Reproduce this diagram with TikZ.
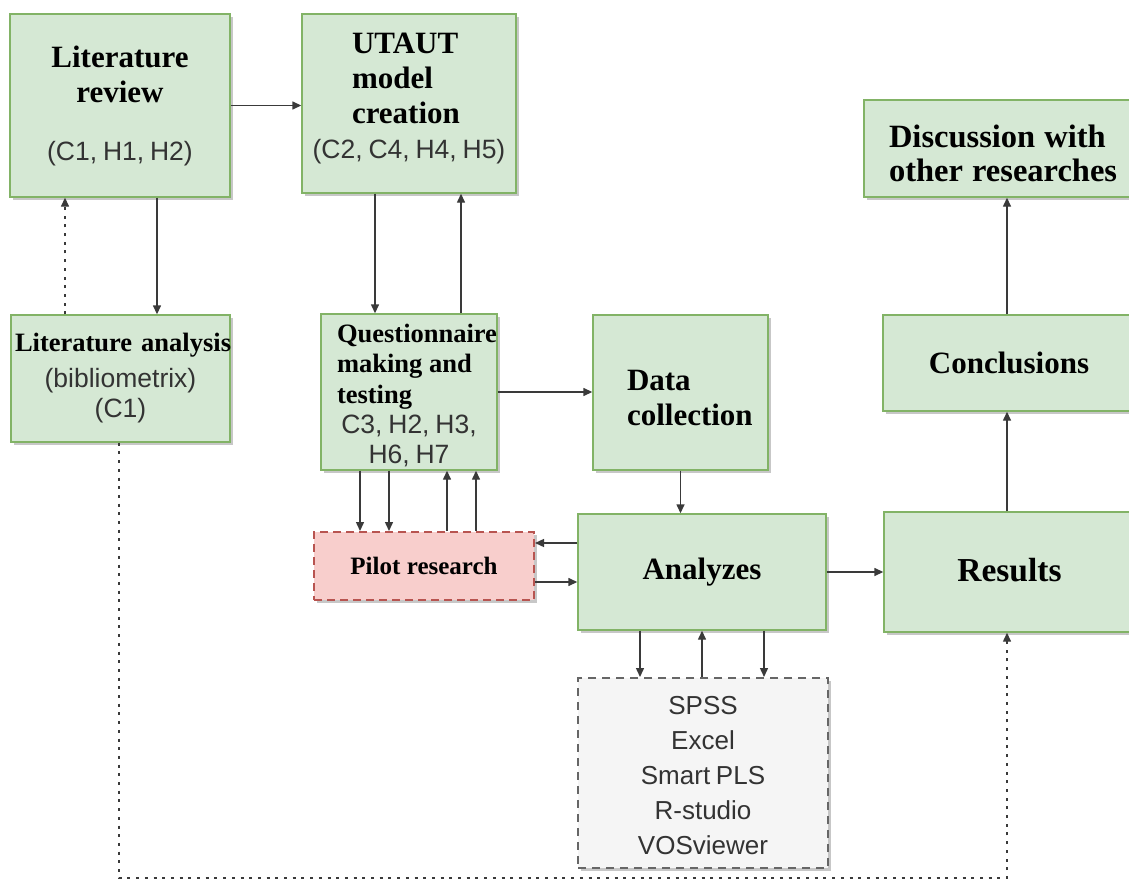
\documentclass[tikz,border=0pt]{standalone}
\usepackage{fontspec}
\setmainfont{Liberation Serif}
\newfontfamily\labelsans{Liberation Sans}
\usetikzlibrary{arrows.meta,shadows}

\definecolor{boxgreen}{HTML}{D5E8D4}
\definecolor{edgegreen}{HTML}{82B366}
\definecolor{boxpink}{HTML}{F8CECC}
\definecolor{edgered}{HTML}{B85450}
\definecolor{boxgray}{HTML}{F5F5F5}
\definecolor{edgegray}{HTML}{666666}
\definecolor{textgray}{HTML}{333333}
\definecolor{linegray}{HTML}{3A3A3A}

% text styles used inside the boxes
\newcommand\boxtitle{\bfseries\fontsize{31}{35}\selectfont\color{black}%
  \spaceskip=0.28em\relax}
\newcommand\boxbig{\bfseries\fontsize{33.5}{35}\selectfont\color{black}%
  \spaceskip=0.28em\relax}
\newcommand\boxsub{\bfseries\fontsize{26.5}{30.5}\selectfont\color{black}%
  \spaceskip=0.25em\relax}
\newcommand\boxnote{\labelsans\mdseries\fontsize{26.5}{30}\selectfont\color{textgray}%
  \spaceskip=0.22em\relax}
\newcommand\toolfont{\labelsans\mdseries\fontsize{26}{35}\selectfont\color{textgray}%
  \spaceskip=0.22em\relax}

\tikzset{
  boxshadow/.style={drop shadow={shadow xshift=3pt,shadow yshift=-3pt,fill=black,opacity=0.22}},
  stage/.style={draw=edgegreen,fill=boxgreen,line width=1.4pt,boxshadow,
    inner sep=0pt,align=center},
  pilotbox/.style={draw=edgered,fill=boxpink,line width=2pt,boxshadow,
    dash pattern=on 8pt off 5pt,inner sep=0pt,align=center},
  toolbox/.style={draw=edgegray,fill=boxgray,line width=2pt,boxshadow,
    dash pattern=on 8pt off 6pt,inner sep=0pt,align=center},
  link/.style={draw=linegray,line width=1.4pt,
    -{Triangle[length=9pt,width=8pt]}},
  dotlink/.style={link,dash pattern=on 3pt off 5.7pt},
}

\begin{document}
\begin{tikzpicture}[x=1pt,y=-1pt]
\useasboundingbox (0,0) rectangle (1129,880);
\clip (0,0) rectangle (1129,880);

% ---- left column ----
\node[stage,minimum width=220pt,minimum height=183pt,text width=212pt]
  (litrev) at (120,105.5)
  {\boxtitle Literature\\review\par\vspace{28pt}\boxnote (C1, H1, H2)\par};

\node[stage,minimum width=214pt,minimum height=179pt,text width=214pt]
  (utaut) at (409,103.5)
  {\raggedright\leftskip=50pt\boxtitle UTAUT\\model\\creation\par
   \vspace{5pt}\centering\boxnote (C2, C4, H4, H5)\par\vspace*{9pt}};

\node[stage,minimum width=219pt,minimum height=127pt,text width=211pt]
  (litan) at (120.5,378.5)
  {\boxsub\spaceskip=0.34em\relax\mbox{Literature analysis}\par
   \vspace{6pt}\boxnote (bibliometrix)\\(C1)\par};

\node[stage,minimum width=176pt,minimum height=156pt,text width=176pt]
  (quest) at (409,392)
  {\raggedright\leftskip=16pt\boxsub Questionnaire\\making and\\testing\par
   \centering\boxnote C3, H2, H3,\\H6, H7\par\vspace*{-6pt}};

% ---- middle column ----
\node[stage,minimum width=175pt,minimum height=155pt,text width=175pt]
  (data) at (680.5,392.5)
  {\raggedright\leftskip=34pt\boxtitle Data\\collection\par\vspace*{-10pt}};

\node[stage,minimum width=248pt,minimum height=116pt,text width=248pt]
  (analyzes) at (702,572) {\boxtitle Analyzes};

\node[pilotbox,minimum width=220pt,minimum height=68pt,text width=220pt]
  (pilot) at (424,566)
  {\bfseries\fontsize{25}{29}\selectfont\spaceskip=0.26em\relax Pilot research};

\node[toolbox,minimum width=250pt,minimum height=190pt,text width=250pt]
  (tools) at (703,773)
  {\toolfont SPSS\\Excel\\Smart PLS\\R-studio\\VOSviewer\par\vspace*{-6pt}};

% ---- right column ----
\node[stage,minimum width=251pt,minimum height=120pt,text width=251pt]
  (results) at (1009.5,572) {\boxbig Results\par\vspace*{4pt}};

\node[stage,minimum width=252pt,minimum height=96pt,text width=252pt]
  (concl) at (1009,363) {\boxtitle Conclusions};

\node[stage,minimum width=271pt,minimum height=97pt,text width=271pt]
  (disc) at (999.5,148.5)
  {\raggedright\leftskip=25pt\boxtitle\fontsize{32.5}{34}\selectfont
   \spaceskip=0.28em\relax
   Discussion with\\other researches\par\vspace*{-10pt}};

% ---- helper points ----
\coordinate (rcol) at (1007,0);
\coordinate (bl) at (119,878);
\coordinate (br) at (1007,878);

% ---- connectors ----
\draw[link] (litrev.east) -- (litrev.east -| utaut.west);
\draw[link] ([xshift=37pt]litrev.south) -- ([xshift=37pt]litrev.south |- litan.north);
\draw[dotlink] ([xshift=-55pt]litrev.south |- litan.north) -- ([xshift=-55pt]litrev.south);

\draw[link] ([xshift=-34pt]utaut.south) -- ([xshift=-34pt]utaut.south |- quest.north);
\draw[link] ([xshift=52pt]utaut.south |- quest.north) -- ([xshift=52pt]utaut.south);

\draw[link] (quest.east) -- (quest.east -| data.west);

\draw[link] ([xshift=-49pt]quest.south) -- ([xshift=-49pt]quest.south |- pilot.north);
\draw[link] ([xshift=-20pt]quest.south) -- ([xshift=-20pt]quest.south |- pilot.north);
\draw[link] ([xshift=38pt]quest.south |- pilot.north) -- ([xshift=38pt]quest.south);
\draw[link] ([xshift=67pt]quest.south |- pilot.north) -- ([xshift=67pt]quest.south);

\draw[link] ([yshift=29pt]analyzes.west) -- ([yshift=29pt]analyzes.west -| pilot.east);
\draw[link] ([yshift=-10pt]analyzes.west -| pilot.east) -- ([yshift=-10pt]analyzes.west);

\draw[link] (data.south) -- (data.south |- analyzes.north);
\draw[link] (analyzes.east) -- (analyzes.east -| results.west);

\draw[link] ([xshift=-62pt]analyzes.south) -- ([xshift=-62pt]analyzes.south |- tools.north);
\draw[link] (analyzes.south |- tools.north) -- (analyzes.south);
\draw[link] ([xshift=62pt]analyzes.south) -- ([xshift=62pt]analyzes.south |- tools.north);

\draw[link] (results.north -| rcol) -- (concl.south -| rcol);
\draw[link] (concl.north -| rcol) -- (disc.south -| rcol);

\draw[dotlink] ([xshift=-1.5pt]litan.south) -- (bl) -- (br) -- (results.south -| br);
\end{tikzpicture}
\end{document}
